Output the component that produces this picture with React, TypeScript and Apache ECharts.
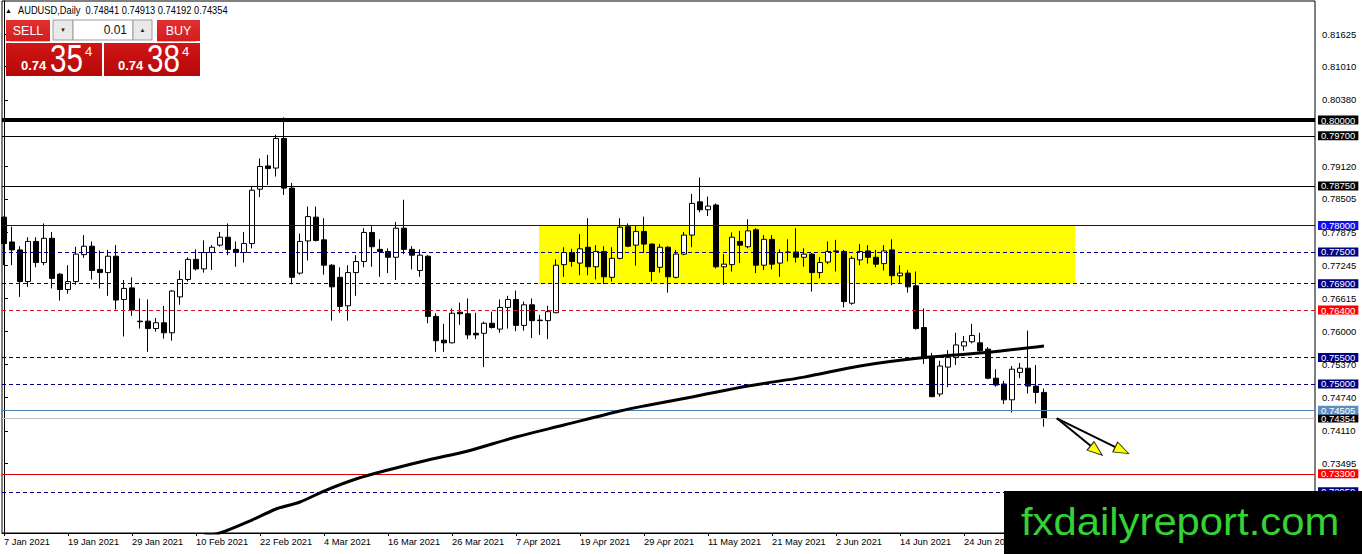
import React, { useEffect, useRef } from 'react';
import * as echarts from 'echarts';

// ---------- data ----------
const SYMBOL_TITLE = 'AUDUSD,Daily';
const HEADER_PRICES = ['0.74841', '0.74913', '0.74192', '0.74354'];
const LOT = '0.01';
const SELL_PRICE = ['0.74', '35', '4'];
const BUY_PRICE = ['0.74', '38', '4'];
const WATERMARK = 'fxdailyreport.com';

const X_TICK_LABELS = [
  '7 Jan 2021', '19 Jan 2021', '29 Jan 2021', '10 Feb 2021', '22 Feb 2021', '4 Mar 2021',
  '16 Mar 2021', '26 Mar 2021', '7 Apr 2021', '19 Apr 2021', '29 Apr 2021', '11 May 2021',
  '21 May 2021', '2 Jun 2021', '14 Jun 2021', '24 Jun 2021',
];
const BARS_PER_TICK = 8;

const Y_TICKS = [
  0.81625, 0.8101, 0.8038, 0.7912, 0.78505, 0.77875, 0.77245, 0.76615, 0.76, 0.7537,
  0.7474, 0.7411, 0.73495,
];

// [open, close, low, high] per daily bar, from 7 Jan 2021
const OHLC: number[][] = [
  [0.7816, 0.7766, 0.7725, 0.7817], [0.7769, 0.7754, 0.7725, 0.7798], [0.7754, 0.7694, 0.7665, 0.7761],
  [0.7694, 0.7770, 0.7684, 0.7778], [0.7770, 0.7730, 0.7721, 0.7778], [0.7730, 0.7776, 0.7725, 0.7804],
  [0.7776, 0.7700, 0.7681, 0.7788], [0.7708, 0.7679, 0.7658, 0.7710], [0.7679, 0.7694, 0.7671, 0.7725],
  [0.7694, 0.7746, 0.7688, 0.7760], [0.7745, 0.7761, 0.7739, 0.7782], [0.7761, 0.7715, 0.7698, 0.7770],
  [0.7717, 0.7711, 0.7681, 0.7753], [0.7711, 0.7742, 0.7667, 0.7754], [0.7742, 0.7659, 0.7641, 0.7763],
  [0.7660, 0.7681, 0.7590, 0.7697], [0.7682, 0.7640, 0.7629, 0.7702], [0.7619, 0.7618, 0.7605, 0.7662],
  [0.7619, 0.7605, 0.7561, 0.7660], [0.7605, 0.7616, 0.7599, 0.7625], [0.7616, 0.7597, 0.7586, 0.7648],
  [0.7597, 0.7676, 0.7582, 0.7678], [0.7665, 0.7698, 0.7650, 0.7715], [0.7698, 0.7736, 0.7694, 0.7740],
  [0.7736, 0.7718, 0.7715, 0.7755], [0.7718, 0.7749, 0.7711, 0.7772], [0.7749, 0.7759, 0.7716, 0.7763],
  [0.7763, 0.7778, 0.7760, 0.7788], [0.7778, 0.7755, 0.7744, 0.7804], [0.7755, 0.7749, 0.7722, 0.7770],
  [0.7749, 0.7766, 0.7730, 0.7788], [0.7766, 0.7867, 0.7757, 0.7875], [0.7869, 0.7912, 0.7854, 0.7927],
  [0.7913, 0.7908, 0.7877, 0.7934], [0.7909, 0.7965, 0.7893, 0.7972], [0.7965, 0.7871, 0.7858, 0.8005],
  [0.7871, 0.7702, 0.7689, 0.7881], [0.7710, 0.7770, 0.7707, 0.7785], [0.7771, 0.7817, 0.7734, 0.7836],
  [0.7816, 0.7772, 0.7770, 0.7836], [0.7773, 0.7725, 0.7707, 0.7814], [0.7725, 0.7684, 0.7620, 0.7727],
  [0.7702, 0.7647, 0.7635, 0.7721], [0.7648, 0.7711, 0.7620, 0.7725], [0.7711, 0.7732, 0.7667, 0.7744],
  [0.7732, 0.7787, 0.7721, 0.7795], [0.7787, 0.7760, 0.7722, 0.7799], [0.7755, 0.7751, 0.7703, 0.7774],
  [0.7751, 0.7740, 0.7710, 0.7757], [0.7740, 0.7795, 0.7697, 0.7807], [0.7795, 0.7755, 0.7746, 0.7849],
  [0.7755, 0.7744, 0.7717, 0.7761], [0.7715, 0.7744, 0.7703, 0.7755], [0.7742, 0.7628, 0.7615, 0.7744],
  [0.7628, 0.7582, 0.7561, 0.7634], [0.7583, 0.7578, 0.7561, 0.7614], [0.7578, 0.7634, 0.7577, 0.7643],
  [0.7636, 0.7633, 0.7612, 0.7654], [0.7633, 0.7593, 0.7585, 0.7662], [0.7596, 0.7593, 0.7585, 0.7635],
  [0.7596, 0.7615, 0.7532, 0.7618], [0.7615, 0.7607, 0.7605, 0.7637], [0.7604, 0.7645, 0.7597, 0.7660],
  [0.7645, 0.7660, 0.7605, 0.7667], [0.7660, 0.7611, 0.7600, 0.7677], [0.7611, 0.7650, 0.7601, 0.7656],
  [0.7650, 0.7620, 0.7587, 0.7662], [0.7621, 0.7620, 0.7593, 0.7631], [0.7620, 0.7637, 0.7585, 0.7648],
  [0.7635, 0.7725, 0.7634, 0.7736], [0.7726, 0.7749, 0.7703, 0.7759], [0.7749, 0.7732, 0.7722, 0.7756],
  [0.7729, 0.7756, 0.7706, 0.7784], [0.7759, 0.7722, 0.7706, 0.7814], [0.7722, 0.7751, 0.7698, 0.7763],
  [0.7751, 0.7703, 0.7689, 0.7761], [0.7702, 0.7738, 0.7694, 0.7759], [0.7738, 0.7797, 0.7736, 0.7814],
  [0.7798, 0.7761, 0.7759, 0.7804], [0.7763, 0.7789, 0.7724, 0.7799], [0.7789, 0.7765, 0.7748, 0.7817],
  [0.7765, 0.7713, 0.7694, 0.7766], [0.7721, 0.7759, 0.7711, 0.7765], [0.7759, 0.7703, 0.7673, 0.7761],
  [0.7702, 0.7746, 0.7700, 0.7754], [0.7746, 0.7782, 0.7744, 0.7788], [0.7782, 0.7842, 0.7759, 0.7860],
  [0.7845, 0.7830, 0.7825, 0.7891], [0.7830, 0.7837, 0.7818, 0.7855], [0.7839, 0.7722, 0.7719, 0.7842],
  [0.7722, 0.7727, 0.7688, 0.7746], [0.7726, 0.7778, 0.7713, 0.7787], [0.7770, 0.7763, 0.7729, 0.7790],
  [0.7760, 0.7790, 0.7757, 0.7812], [0.7792, 0.7725, 0.7710, 0.7795], [0.7725, 0.7774, 0.7716, 0.7782],
  [0.7774, 0.7727, 0.7717, 0.7782], [0.7729, 0.7749, 0.7703, 0.7755], [0.7749, 0.7750, 0.7732, 0.7774],
  [0.7750, 0.7740, 0.7730, 0.7795], [0.7740, 0.7746, 0.7722, 0.7757], [0.7746, 0.7711, 0.7675, 0.7748],
  [0.7711, 0.7730, 0.7700, 0.7740], [0.7731, 0.7751, 0.7727, 0.7770], [0.7751, 0.7752, 0.7713, 0.7773],
  [0.7751, 0.7656, 0.7645, 0.7754], [0.7653, 0.7738, 0.7650, 0.7742], [0.7735, 0.7751, 0.7725, 0.7765],
  [0.7752, 0.7740, 0.7728, 0.7763], [0.7740, 0.7727, 0.7721, 0.7754], [0.7728, 0.7752, 0.7715, 0.7763],
  [0.7754, 0.7705, 0.7687, 0.7774], [0.7705, 0.7710, 0.7691, 0.7725], [0.7710, 0.7684, 0.7673, 0.7716],
  [0.7686, 0.7605, 0.7603, 0.7713], [0.7607, 0.7549, 0.7538, 0.7643], [0.7550, 0.7476, 0.7475, 0.7559],
  [0.7481, 0.7534, 0.7476, 0.7544], [0.7532, 0.7550, 0.7494, 0.7564], [0.7550, 0.7574, 0.7536, 0.7597],
  [0.7572, 0.7580, 0.7563, 0.7591], [0.7580, 0.7592, 0.7577, 0.7614], [0.7578, 0.7563, 0.7559, 0.7597],
  [0.7566, 0.7511, 0.7509, 0.7570], [0.7511, 0.7498, 0.7495, 0.7528], [0.7500, 0.7470, 0.7462, 0.7506],
  [0.7470, 0.7528, 0.7446, 0.7534], [0.7522, 0.7530, 0.7511, 0.7540], [0.7530, 0.7496, 0.7482, 0.7601],
  [0.7496, 0.7484, 0.7463, 0.7536], [0.74841, 0.74354, 0.74192, 0.74913],
];

// moving average, read at sampled bars: [bar index, value]
const MA_POINTS: number[][] = [
  [25, 0.72121], [27, 0.72178], [31, 0.72424], [34, 0.72633], [37, 0.72765], [40, 0.72973],
  [44, 0.73201], [48, 0.73371], [53, 0.73561], [58, 0.73731], [64, 0.73996], [70, 0.74223],
  [77, 0.74489], [80, 0.74583], [86, 0.74754], [93, 0.74962], [100, 0.7513], [107, 0.75341],
  [115, 0.755], [123, 0.756], [130, 0.7572],
];

// horizontal levels (prices); style per level is defined below (same order)
const LEVEL_PRICES = [0.8, 0.797, 0.7875, 0.78, 0.775, 0.769, 0.764, 0.755, 0.75, 0.74354, 0.74505, 0.733, 0.72959];

// supply/demand zone: bar range and price range
const ZONE_BARS = [66.875, 133.875];
const ZONE_PRICES = [0.78, 0.769];

// arrows: shared start, two heads [bar, price]
const ARROW_START = [131.6, 0.7435];
const ARROW_HEADS = [[136.55, 0.73739], [139.75, 0.73744]];

// ---------- styles ----------
const FONT = 'Liberation Sans';
const NAVY = '#000080';
const LEVEL_STYLE: { color: string; width: number; dash: boolean; bg: string }[] = [
  { color: '#000000', width: 4, dash: false, bg: '#000000' },
  { color: '#000000', width: 1, dash: false, bg: '#000000' },
  { color: '#000000', width: 1, dash: false, bg: '#000000' },
  { color: '#0000dd', width: 1, dash: false, bg: '#1010ee' },
  { color: NAVY, width: 1, dash: true, bg: NAVY },
  { color: NAVY, width: 1, dash: true, bg: NAVY },
  { color: '#d0102a', width: 1, dash: true, bg: '#ff0000' },
  { color: NAVY, width: 1, dash: true, bg: NAVY },
  { color: NAVY, width: 1, dash: true, bg: NAVY },
  { color: '#bdbdbd', width: 1, dash: false, bg: '#000000' },
  { color: '#4a84b4', width: 1, dash: false, bg: '#5b8fc2' },
  { color: '#e00000', width: 1, dash: false, bg: '#ff0000' },
  { color: NAVY, width: 1, dash: true, bg: NAVY },
];
const ARROW_ROT = [-129, -116];

function redGrad(top: string, bottom: string) {
  return new echarts.graphic.LinearGradient(0, 0, 0, 1, [
    { offset: 0, color: top },
    { offset: 1, color: bottom },
  ]);
}

function txt(x: number, y: number, text: string, size: number, color: string, opts: any = {}) {
  return {
    type: 'text',
    x,
    y,
    scaleX: opts.scaleX ?? 1,
    z: 100,
    style: {
      x: 0,
      y: 0,
      text,
      fontSize: size,
      fontFamily: FONT,
      fontWeight: opts.bold ? 'bold' : 'normal',
      fill: color,
      align: opts.align ?? 'left',
      textAlign: opts.align ?? 'left',
      verticalAlign: 'middle',
      textVerticalAlign: 'middle',
    },
  };
}

function rect(x: number, y: number, w: number, h: number, fill: any, stroke?: string) {
  return {
    type: 'rect',
    z: 99,
    shape: { x, y, width: w, height: h },
    style: { fill, stroke: stroke ?? null, lineWidth: stroke ? 1 : 0 },
  };
}

function buildOption() {
  const candles = OHLC.map((d, i) => [i, d[0], d[1], d[2], d[3]]);

  const levelLines = LEVEL_PRICES.map((p, i) => {
    const s = LEVEL_STYLE[i];
    return {
      yAxis: p,
      lineStyle: { color: s.color, width: s.width, type: s.dash ? [4, 3] : 'solid' },
      label: {
        show: true,
        position: 'end',
        formatter: p.toFixed(5),
        color: '#ffffff',
        backgroundColor: s.bg,
        padding: [0, 3, 0, 3],
        lineHeight: 9,
        fontSize: 9.5,
        fontFamily: FONT,
        distance: 3,
      },
    };
  });

  const graphics: any[] = [
    // header
    txt(5, 10, '▲', 7, '#000'),
    txt(18, 10, `${SYMBOL_TITLE}  ${HEADER_PRICES.join(' ')}`, 10, '#000', { scaleX: 0.93 }),
    // sell label
    rect(6, 20, 44, 21, redGrad('#e23030', '#d41c1c')),
    { type: 'line', z: 100, shape: { x1: 10, y1: 41.5, x2: 50, y2: 41.5 }, style: { stroke: '#f3b0b0', lineWidth: 1 } },
    txt(28, 30.5, 'SELL', 12.5, '#fff', { align: 'center', scaleX: 1 }),
    // lot control
    rect(53, 20, 20, 20, '#e9e9e9', '#9c9c9c'),
    rect(73, 20, 60, 20, '#ffffff', '#9c9c9c'),
    rect(133, 20, 19, 20, '#e9e9e9', '#9c9c9c'),
    txt(63, 30, '▼', 6, '#222', { align: 'center' }),
    txt(142.5, 30, '▲', 6, '#222', { align: 'center' }),
    txt(127, 30, LOT, 12, '#111', { align: 'right' }),
    // buy label
    rect(157, 20, 43, 21, redGrad('#e23030', '#d41c1c')),
    { type: 'line', z: 100, shape: { x1: 157, y1: 41.5, x2: 196, y2: 41.5 }, style: { stroke: '#f3b0b0', lineWidth: 1 } },
    txt(178.5, 30.5, 'BUY', 12.5, '#fff', { align: 'center' }),
    // price boxes
    rect(6, 43, 96, 33, redGrad('#d01616', '#b50808')),
    rect(104, 43, 96, 33, redGrad('#d01616', '#b50808')),
    txt(21, 65.5, SELL_PRICE[0], 13, '#fff', { bold: true }),
    txt(50, 58, SELL_PRICE[1], 39, '#fff', { scaleX: 0.76 }),
    txt(85, 51.5, SELL_PRICE[2], 13, '#fff'),
    txt(118, 65.5, BUY_PRICE[0], 13, '#fff', { bold: true }),
    txt(147, 58, BUY_PRICE[1], 39, '#fff', { scaleX: 0.76 }),
    txt(182, 51.5, BUY_PRICE[2], 13, '#fff'),
    // watermark
    rect(1004, 491, 358, 63, '#000000'),
    {
      type: 'text',
      x: 1021,
      y: 522,
      scaleX: 1.1,
      z: 101,
      style: {
        x: 0, y: 0, text: WATERMARK, fontSize: 38, fontFamily: FONT, fill: '#35d135',
        align: 'left', textAlign: 'left', verticalAlign: 'middle', textVerticalAlign: 'middle',
      },
    },
  ];

  return {
    animation: false,
    backgroundColor: '#ffffff',
    textStyle: { fontFamily: FONT },
    grid: { left: 2, right: 47, top: 1, bottom: 21, show: true, borderColor: '#000', borderWidth: 1, backgroundColor: 'transparent' },
    xAxis: {
      type: 'value',
      min: -0.25,
      max: 163.875,
      splitLine: { show: false },
      axisLine: { show: true, lineStyle: { color: '#000', width: 1 } },
      axisTick: {
        show: true,
        length: 3,
        lineStyle: { color: '#000' },
        customValues: X_TICK_LABELS.map((_, i) => i * BARS_PER_TICK),
      },
      axisLabel: {
        show: true,
        customValues: X_TICK_LABELS.map((_, i) => i * BARS_PER_TICK),
        formatter: (v: number) => X_TICK_LABELS[Math.round(v / BARS_PER_TICK)] ?? '',
        align: 'left',
        margin: 4,
        color: '#000',
        fontSize: 9.3,
        fontFamily: FONT,
      },
    },
    yAxis: {
      type: 'value',
      position: 'right',
      min: 0.72178,
      max: 0.822538,
      splitLine: { show: false },
      axisLine: { show: true, lineStyle: { color: '#000', width: 1 } },
      axisTick: { show: true, length: 4, lineStyle: { color: '#000' }, customValues: Y_TICKS },
      axisLabel: {
        show: true,
        customValues: Y_TICKS,
        formatter: (v: number) => v.toFixed(5),
        margin: 7,
        color: '#000',
        fontSize: 9.5,
        fontFamily: FONT,
      },
    },
    series: [
      {
        type: 'line',
        name: 'zone',
        data: [],
        silent: true,
        markArea: {
          silent: true,
          itemStyle: { color: '#ffff00', opacity: 1 },
          data: [[{ coord: [ZONE_BARS[0], ZONE_PRICES[0]] }, { coord: [ZONE_BARS[1], ZONE_PRICES[1]] }]],
        },
      },
      {
        type: 'candlestick',
        name: 'AUDUSD',
        data: candles,
        encode: { x: 0, y: [1, 2, 3, 4] },
        barWidth: 5,
        itemStyle: {
          color: '#ffffff',
          color0: '#000000',
          borderColor: '#000000',
          borderColor0: '#000000',
          borderColorDoji: '#000000',
          borderWidth: 1,
        },
        z: 2,
      },
      {
        type: 'line',
        name: 'levels',
        data: [],
        silent: true,
        markLine: {
          silent: true,
          precision: 5,
          symbol: ['none', 'none'],
          data: levelLines,
        },
      },
      {
        type: 'line',
        name: 'MA',
        data: MA_POINTS,
        smooth: 0.3,
        symbol: 'none',
        lineStyle: { color: '#000', width: 3 },
        z: 6,
      },
      {
        type: 'line',
        name: 'arrows',
        data: [],
        silent: true,
        markLine: {
          silent: true,
          precision: 5,
          symbol: ['none', 'none'],
          label: { show: false },
          lineStyle: { color: '#000', width: 2, type: 'solid' },
          data: ARROW_HEADS.map((h) => [{ coord: ARROW_START }, { coord: h }]),
        },
      },
      {
        type: 'scatter',
        name: 'heads',
        data: ARROW_HEADS.map((h, i) => ({ value: h, symbolRotate: ARROW_ROT[i] })),
        symbol: 'triangle',
        symbolSize: [11, 15],
        itemStyle: { color: '#ffff00', borderColor: '#222', borderWidth: 1, opacity: 1 },
        z: 7,
      },
    ],
    graphic: { elements: graphics },
  };
}

export default function App() {
  const ref = useRef<HTMLDivElement>(null);
  useEffect(() => {
    document.body.style.margin = '0';
    const chart = echarts.init(ref.current as HTMLDivElement, null, { renderer: 'svg' });
    chart.setOption(buildOption() as any);
    return () => chart.dispose();
  }, []);
  return <div ref={ref} style={{ width: 1362, height: 554 }} />;
}
